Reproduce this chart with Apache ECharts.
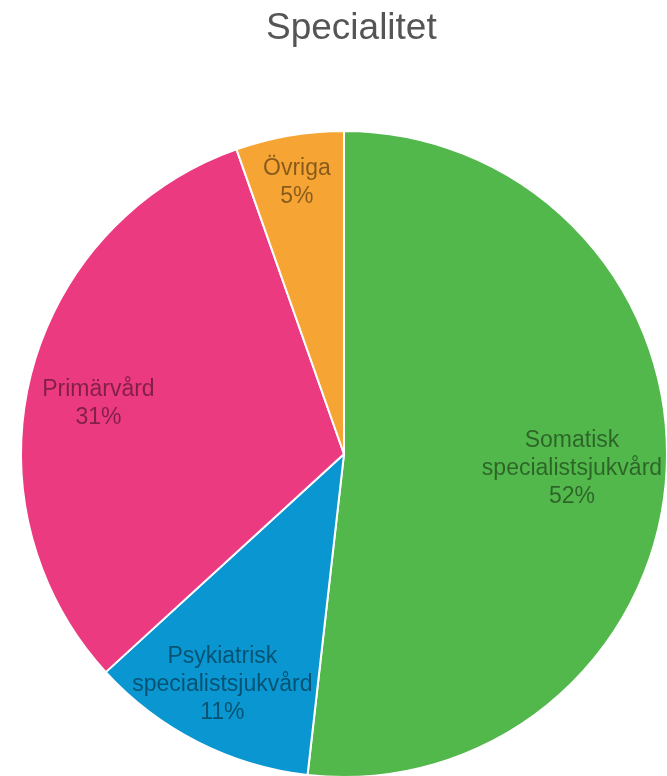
<!DOCTYPE html>
<html>
<head>
<meta charset="utf-8">
<title>Specialitet</title>
<script src="https://cdn.jsdelivr.net/npm/echarts@6/dist/echarts.min.js"></script>
<style>
  html, body { margin: 0; padding: 0; background: #fff; }
  #chart { width: 667px; height: 776px; }
</style>
</head>
<body>
<div id="chart"></div>
<script>
// data
const categories = ["Somatisk\nspecialistsjukvård", "Psykiatrisk\nspecialistsjukvård", "Primärvård", "Övriga"];
const values = [51.8, 11.4, 31.4, 5.4];
const colors = ["#52b84b", "#0a96d0", "#ec3a80", "#f6a534"];

// small label nudges in px
const labelShift = [[-33, 0], [-3, -2], [8, 13], [-3, -14]];

const chart = echarts.init(document.getElementById("chart"));
const font = '"Liberation Sans", Arial, sans-serif';
const R = 323;
const center = [344, 454];

const option = {
  animation: false,
  title: {
    text: "Specialitet",
    left: 261,
    top: 5,
    textStyle: { fontFamily: font, fontSize: 37, fontWeight: "normal", color: "#555" }
  },
  series: [
    {
      type: "pie",
      center: center,
      radius: [0, R],
      startAngle: 90,
      clockwise: true,
      silent: true,
      label: { show: false },
      labelLine: { show: false },
      itemStyle: { borderColor: "#fff", borderWidth: 2 },
      data: categories.map((c, i) => ({ name: c, value: values[i], itemStyle: { color: colors[i] } }))
    },
    // transparent ring only used to put the labels further out
    {
      type: "pie",
      center: center,
      radius: [R * 0.6, R],
      startAngle: 90,
      clockwise: true,
      silent: true,
      itemStyle: { color: "transparent" },
      labelLine: { show: false },
      label: {
        show: true,
        position: "inside",
        fontFamily: font,
        fontSize: 23,
        lineHeight: 28,
        color: "rgba(0,0,0,0.45)",
        formatter: (p) => p.name + "\n" + Math.round(p.percent) + "%"
      },
      data: categories.map((c, i) => ({ name: c, value: values[i], label: { offset: labelShift[i] } }))
    }
  ]
};

chart.setOption(option);
</script>
</body>
</html>
